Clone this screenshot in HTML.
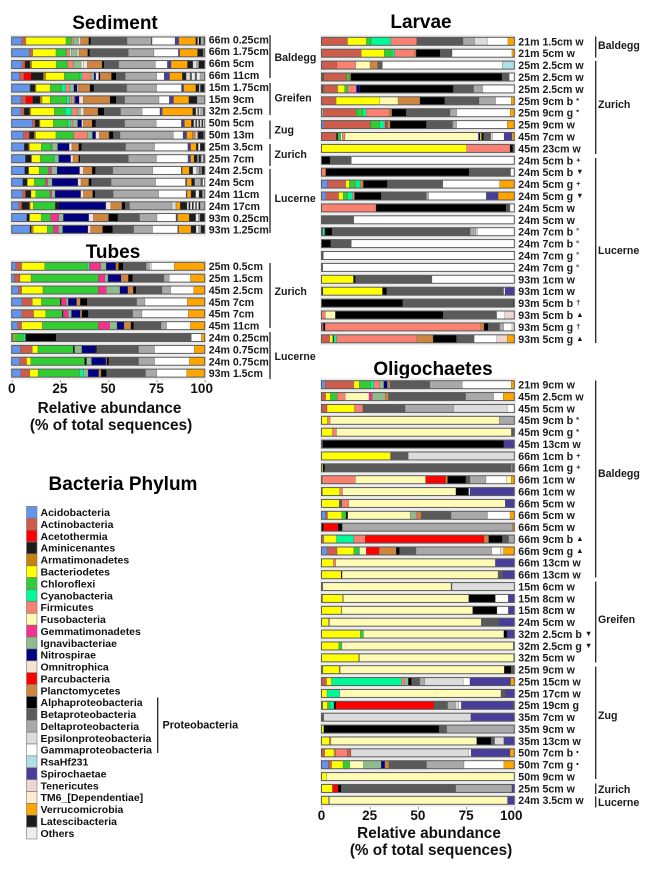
<!DOCTYPE html>
<html lang="en">
<head>
<meta charset="utf-8">
<title>Bacteria phylum relative abundance</title>
<style>
html,body{margin:0;padding:0;background:#fff;}
svg{display:block;font-family:"Liberation Sans",Arial,sans-serif;font-weight:bold;}
.title{font-size:19px;fill:#000;text-anchor:middle;}
.axt{font-size:15.3px;fill:#111;text-anchor:middle;}
.grp{font-size:10.6px;fill:#1a1a1a;dominant-baseline:central;}
.brk{stroke:#222;stroke-width:1.3;}
</style>
</head>
<body>
<svg id="chart" width="649" height="872" viewBox="0 0 649 872" xmlns="http://www.w3.org/2000/svg">
<rect width="649" height="872" fill="#fff"/>
<text class="title" x="115" y="29">Sediment</text>
<text class="title" x="113" y="258">Tubes</text>
<text class="title" x="421" y="28">Larvae</text>
<text class="title" x="433" y="375">Oligochaetes</text>
<text class="title" x="123" y="490">Bacteria Phylum</text>

<g id="panels"></g>
<g id="legend"></g>

<g>
<line class="brk" x1="270" x2="270" y1="35" y2="78"/>
<line class="brk" x1="270" x2="270" y1="83" y2="115"/>
<line class="brk" x1="270" x2="270" y1="120.5" y2="139"/>
<line class="brk" x1="270" x2="270" y1="144" y2="166"/>
<line class="brk" x1="270" x2="270" y1="169" y2="233"/>
<text class="grp" x="274.5" y="58">Baldegg</text>
<text class="grp" x="274.5" y="98.5">Greifen</text>
<text class="grp" x="274.5" y="130.5">Zug</text>
<text class="grp" x="274.5" y="155">Zurich</text>
<text class="grp" x="274.5" y="199">Lucerne</text>
</g>
<g>
<line class="brk" x1="270" x2="270" y1="263" y2="328"/>
<line class="brk" x1="270" x2="270" y1="332" y2="379"/>
<text class="grp" x="274.5" y="292">Zurich</text>
<text class="grp" x="274.5" y="357">Lucerne</text>
</g>
<g>
<line class="brk" x1="595.7" x2="595.7" y1="36.5" y2="57.5"/>
<line class="brk" x1="595.7" x2="595.7" y1="61" y2="154"/>
<line class="brk" x1="595.7" x2="595.7" y1="158" y2="343"/>
<text class="grp" x="598" y="46">Baldegg</text>
<text class="grp" x="598" y="105">Zurich</text>
<text class="grp" x="598" y="251">Lucerne</text>
</g>
<g>
<line class="brk" x1="595.7" x2="595.7" y1="380.5" y2="577.5"/>
<line class="brk" x1="595.7" x2="595.7" y1="581.5" y2="662.5"/>
<line class="brk" x1="595.7" x2="595.7" y1="666.5" y2="779"/>
<line class="brk" x1="595.7" x2="595.7" y1="783.5" y2="794"/>
<line class="brk" x1="595.7" x2="595.7" y1="796.5" y2="807.5"/>
<text class="grp" x="598" y="474">Baldegg</text>
<text class="grp" x="598" y="620">Greifen</text>
<text class="grp" x="598" y="716">Zug</text>
<text class="grp" x="598" y="790">Zurich</text>
<text class="grp" x="598" y="803">Lucerne</text>
</g>

<text class="axt" x="109.5" y="413">Relative abundance</text>
<text class="axt" x="111" y="430">(% of total sequences)</text>
<text class="axt" x="429" y="838">Relative abundance</text>
<text class="axt" x="431" y="855">(% of total sequences)</text>

<line class="brk" x1="157.7" x2="157.7" y1="697.5" y2="753"/>
<text x="162.5" y="725.7" font-size="10.8" fill="#111" dominant-baseline="central">Proteobacteria</text>
</svg>

<script>
const phylumKeys = ['Ac','An','At','Am','Ar','B','C','Cy','F','Fu','G','I','N','O','P','Pl','Al','Be','De','Ep','Ga','R','S','T','TM','V','L','Ot'];
const phylumNames = ['Acidobacteria','Actinobacteria','Acetothermia','Aminicenantes','Armatimonadetes','Bacteriodetes','Chloroflexi','Cyanobacteria','Firmicutes','Fusobacteria','Gemmatimonadetes','Ignavibacteriae','Nitrospirae','Omnitrophica','Parcubacteria','Planctomycetes','Alphaproteobacteria','Betaproteobacteria','Deltaproteobacteria','Epsilonproteobacteria','Gammaproteobacteria','RsaHf231','Spirochaetae','Tenericutes','TM6_[Dependentiae]','Verrucomicrobia','Latescibacteria','Others'];
const phylumColors = {Ac:'#6495ED',An:'#CD5C4A',At:'#FF0000',Am:'#1C1C1C',Ar:'#C88008',B:'#FFFF00',C:'#32CD32',Cy:'#00FA9A',F:'#FA8072',Fu:'#FFFAB4',G:'#F5308F',I:'#8FBC8F',N:'#000080',O:'#F5E2D2',P:'#FF0000',Pl:'#CD853F',Al:'#000000',Be:'#5A5A5A',De:'#A9A9A9',Ep:'#DCDCDC',Ga:'#FFFFFF',R:'#B0E0E6',S:'#483D9B',T:'#EED5D2',TM:'#FFEBD2',V:'#FFA500',L:'#1C1C1C',Ot:'#EEEEEE'};
const tickValues = [0,25,50,75,100];

const sedimentLabels = ['66m 0.25cm','66m 1.75cm','66m 5cm','66m 11cm','15m 1.75cm','15m 9cm','32m 2.5cm','50m 5cm','50m 13m','25m 3.5cm','25m 7cm','24m 2.5cm','24m 5cm','24m 11cm','24m 17cm','93m 0.25cm','93m 1.25cm'];
const sedimentValues = [
['Ac',5.2,'An',2.2,'B',21,'C',2.8,'F',1,'I',2.8,'O',1,'Pl',4.3,'Al',1,'Be',19,'De',12.8,'Al',.3,'Ga',12,'S',2,'V',8.8,'L',1,'Ot',.7,'Al',.9,'De',1.7,'L',.4],
['Ac',9.2,'An',1.7,'B',12,'C',5.5,'F',1.7,'Ot',.7,'I',3,'O',1,'Pl',4.5,'Al',1,'Be',20,'De',13.3,'Ga',12.6,'S',.7,'V',9.2,'L',3,'De',.7],
['Ac',5.2,'An',1.7,'Am',2.6,'Ar',.9,'B',12.6,'C',6,'F',3,'I',4,'Ot',1.2,'O',2,'Pl',7.6,'Al',1,'Be',7.6,'De',19,'Ga',6.2,'S',1.9,'V',8.5,'L',2.8,'Ep',2,'De',1,'L',3.1],
['Ac',4,'An',2.4,'At',3.6,'Am',6.4,'Ar',1.2,'B',9.7,'C',8.1,'Cy',.9,'F',4.8,'I',1.6,'N',.9,'O',1.5,'N',.7,'Pl',5.9,'Al',2.4,'Be',4.7,'De',16.4,'Ga',3.8,'S',2.8,'V',6.6,'L',2,'Ep',2,'Be',.9,'Ot',1.7,'Be',.9,'Ot',1.7,'De',2.4],
['Ac',9.5,'Am',2.6,'Ar',.5,'B',7.3,'C',6,'Cy',2,'F',1.9,'I',2.4,'N',1.6,'O',.5,'Pl',6.2,'Al',2,'Be',17,'De',15.5,'Ga',12.8,'S',1.2,'V',6.2,'L',1.7,'Ep',.7,'L',1.9,'Ot',.3],
['Ac',4.7,'An',2.4,'At',3.5,'Am',3.8,'Ar',1,'B',4.1,'C',8.3,'Cy',1.4,'F',1,'I',1.4,'G',.6,'N',1.9,'O',2.1,'Pl',13.6,'Al',3.1,'Be',4.3,'De',17.4,'Ga',5.2,'S',2.1,'V',7.8,'L',4.1,'De',1.7,'Ep',.6,'De',1.6],
['Ac',4.7,'An',1.7,'Am',2.8,'Ar',.7,'B',12.1,'C',5.7,'Cy',3.3,'F',3.1,'I',1.4,'O',1.7,'Pl',7.4,'Al',3.1,'Be',8.5,'De',11.2,'Ga',9.2,'S',1.2,'V',15.7,'L',1.6,'Ep',1,'Be',.6,'Ep',1,'De',1.4,'L',.6],
['Ac',10.7,'An',1.4,'Am',2.2,'Ar',.4,'B',6.9,'C',7.6,'Cy',1.4,'F',1.2,'I',2.4,'N',2.1,'O',.9,'Pl',4.5,'Al',1.9,'Be',15,'De',16.4,'Ga',13,'S',1.6,'V',3.6,'L',1.2,'Ep',1,'L',.6,'Ep',1,'L',.6,'Ep',1,'L',.6,'Ep',.9],
['Ac',6,'An',3.1,'Am',2.6,'Ar',.7,'B',10.5,'C',9.2,'F',7.1,'I',2.6,'N',1.7,'O',1.9,'Pl',5,'Al',2.2,'Be',3.5,'De',27.6,'Ga',5,'S',1.9,'V',2.9,'Pl',1.6,'Ep',1.2,'L',3,'De',.6],
['Ac',6.4,'Am',2.2,'Ar',.5,'B',6,'C',5,'Cy',.4,'F',.4,'I',2.6,'N',5.9,'O',1.4,'Pl',3.5,'Al',1.4,'Be',22.5,'De',14.9,'Ga',17,'S',1.4,'V',2.9,'L',1,'Ot',1,'L',2.3],
['Ac',7.1,'Am',2.9,'Ar',.4,'B',4.3,'C',6.9,'Cy',.6,'I',2,'N',6.2,'O',1.2,'Pl',2.9,'Al',.7,'Be',24.9,'De',14.5,'Ga',16.2,'S',1.4,'V',1.7,'L',1.7,'De',.8,'L',1,'De',.7,'Ga',.7,'L',.6],
['Ac',6.7,'Am',2.1,'B',5.4,'C',5,'G',1.4,'I',2.9,'N',11.6,'O',2,'Pl',4.5,'Al',1.7,'Be',9,'De',20.7,'Ga',14.7,'S',.5,'V',3.6,'L',1.9,'Ot',2,'De',1.4,'Be',.6,'Ot',.5,'L',1.6],
['Ac',5.7,'Am',2.4,'B',3.5,'C',5.9,'G',1,'I',2.4,'N',13.3,'O',1.6,'Pl',4,'Al',1.4,'Be',10.2,'De',23,'Ga',15.4,'S',.7,'V',2.4,'L',1.7,'Ot',.5,'De',2.6,'Be',1,'Ga',1],
['Ac',5.5,'An',1.6,'Am',2.8,'B',2.4,'C',7.3,'G',.9,'I',1.7,'N',13.1,'O',1.4,'Pl',4.7,'Al',1.2,'Be',9.3,'De',23.3,'Ga',14,'S',.5,'V',2,'L',2.4,'Ot',1.7,'L',1.7,'De',1.2],
['Ac',3.6,'An',1.6,'Am',4,'Ar',.4,'B',1.6,'C',11.4,'Am',1.7,'N',24.5,'O',2.6,'Pl',5.7,'Al',1.6,'Be',2.4,'De',22,'Ep',1.9,'Ga',.3,'V',2,'L',3.5,'Ep',1,'L',.7,'Ot',1,'L',.7,'Ot',1,'Be',.7,'Ot',1,'L',.7,'De',2.4],
['Ac',7.8,'Am',1.4,'B',6,'C',5,'G',4.1,'I',2.4,'N',13.1,'O',2.4,'Pl',7.8,'Al',4.8,'Be',11.2,'De',9,'Ga',9.8,'S',.8,'V',6,'L',3.4,'Ot',1.4,'De',.8,'L',2.4],
['Ac',9.5,'Am',.7,'Ar',1,'B',7.3,'C',3.1,'G',2.6,'I',2.2,'N',13.1,'O',1.4,'Pl',6.2,'Al',5.2,'Be',10.9,'De',9.8,'Ga',13,'S',.5,'V',6.4,'L',2.6,'Ot',1.4,'De',1.2,'L',1.9]
];

const tubesLabels = ['25m 0.5cm','25m 1.5cm','45m 2.5cm','45m 7cm','45m 7cm','45m 11cm','24m 0.25cm','24m 0.75cm','24m 0.75cm','93m 1.5cm'];
const tubesValues = [
['Ac',2.1,'An',3.1,'B',11.9,'C',22.1,'Cy',1,'G',5.9,'I',2.8,'N',5,'Ar',1.4,'Al',2.4,'Be',11.9,'De',1.7,'Ep',1,'Ga',11.9,'V',15.7],
['Ac',1.4,'An',2.9,'B',5.7,'C',34.9,'G',3.3,'I',1.7,'N',6.7,'Pl',3.8,'Al',2.2,'Be',16.2,'De',2.8,'Ga',10.9,'V',7.4],
['Ac',3.5,'An',1.7,'B',11,'C',28.7,'G',4.1,'I',7.1,'N',4.1,'Pl',2.8,'Al',1.4,'Be',13.5,'De',4.5,'Ga',11.9,'V',5.7],
['Ac',5.2,'An',5.5,'B',4.7,'C',9.8,'Al',.5,'G',2.6,'I',1,'N',4.3,'Pl',1.9,'Al',3.6,'Be',25.6,'De',4.3,'Ga',21.9,'V',9],
['Ac',5.2,'An',6.2,'B',6.2,'C',8.6,'Am',.5,'G',2.6,'I',1.7,'N',4.5,'Pl',.9,'Al',3.3,'Be',23,'De',4.8,'Ga',24,'V',8.5],
['Ac',3.1,'An',2.1,'B',10.7,'C',29,'G',5.9,'I',3.8,'N',3.6,'Pl',3.6,'Al',1.4,'Be',14.2,'De',2.9,'Ga',12.3,'V',7.4],
['Ac',.5,'Ar',.5,'B',.5,'C',4.5,'Cy',1,'Be',.4,'Al',15.5,'Be',70,'Ga',5.2,'V',1.7],
['Ac',4.5,'An',6.2,'B',2.9,'C',18.3,'Al',.7,'I',3.8,'N',7.1,'Al',.5,'Be',21.8,'De',8.3,'Ga',20.6,'V',5.4],
['Ac',4.1,'An',3.6,'B',2.2,'C',27.8,'Al',1,'I',2.6,'N',7.4,'Pl',.5,'Al',1,'Be',15.4,'De',8.3,'Ga',18,'V',7.9],
['Ac',4.7,'An',4.7,'B',4.3,'C',21.4,'Cy',2.1,'I',2.4,'N',5.5,'Pl',1.2,'Al',2.8,'Be',20.2,'De',5.9,'Ga',15.5,'V',9.3]
];

const larvaeLabels = ['21m 1.5cm w','21m 5cm w','25m 2.5cm w','25m 2.5cm w','25m 2.5cm w','25m 9cm b|*','25m 9cm g|*','25m 9cm w','45m 7cm w','45m 23cm w','24m 5cm b|+','24m 5cm b|▼','24m 5cm g|+','24m 5cm g|▼','24m 5cm w','24m 5cm w','24m 7cm b|°','24m 7cm b|ª','24m 7cm g|°','24m 7cm g|ª','93m 1cm w','93m 1cm w','93m 5cm b|†','93m 5cm b|▲','93m 5cm g|†','93m 5cm g|▲'];
const larvaeValues = [
['An',13.5,'B',9.8,'C',2.4,'Cy',10.2,'F',13.5,'Be',24,'De',6,'Ep',6.6,'Ga',10.7,'V',3.3],
['An',20.6,'B',11.9,'C',4.1,'Cy',1.2,'F',10.5,'Pl',.7,'Al',12.4,'Be',6.2,'Ga',31,'V',1.2],
['An',7.9,'F',9.8,'Fu',7.4,'Pl',4,'Be',2.4,'Ga',62,'R',6.2],
['Be',1.2,'An',11.9,'C',1.4,'Pl',.7,'Al',78.4,'Be',3.8,'Ga',2.6],
['Be',1,'An',7.4,'B',3.6,'C',1.6,'F',4.5,'N',1.7,'Al',48.5,'Be',10.5,'De',4.7,'Ga',16.4],
['An',7.6,'B',22.6,'Fu',9.5,'Pl',11.4,'Al',12.8,'Be',17.8,'De',8.6,'Ga',8.1,'V',1.6],
['De',1,'An',17,'C',3.5,'Cy',1.7,'F',11.9,'Pl',1.4,'Al',7.4,'Be',22.8,'De',3.5,'Ga',27.8,'V',2.1],
['Ac',1.2,'An',24.2,'C',4.7,'Cy',2.4,'F',.7,'Be',1,'Pl',1.4,'Al',18.8,'Be',13.6,'De',2.1,'Ga',26.3,'V',3.6],
['An',7.8,'Al',.7,'C',1.6,'Ga',.7,'F',1.4,'Fu',69.3,'N',.9,'B',.7,'Al',1,'Be',3.8,'Ep',1,'Ga',5.9,'S',4.1,'V',1.2],
['B',75.3,'F',22.5,'Al',1.4,'Be',.8],
['Al',4.5,'Be',11,'Ga',84.5],
['F',2.2,'Al',74.3,'Be',21.6,'Ga',1.9],
['Ac',3.1,'An',9.5,'B',1.9,'C',3.3,'Cy',2.2,'Pl',1.7,'Al',12.4,'Be',28.8,'Ga',29.4,'V',7.6],
['Ac',2.2,'An',6.7,'B',2.4,'C',2.2,'Cy',2.6,'F',1,'Al',13.8,'Be',23.3,'De',1.2,'Ga',29.9,'S',6.2,'V',8.3],
['F',28.3,'Al',67.4,'Be',2.1,'Ga',2.2],
['Be',16.8,'Ga',83.2],
['Be',.7,'Cy',1,'Al',3.8,'Be',71.5,'De',2.9,'Ep',1,'Ga',19],
['Al',4.8,'Be',10.7,'Ga',84.5],
['Be',1,'Ga',99],
['Be',.7,'Ga',99.3],
['B',16.6,'Al',1,'Be',39.7,'Ga',42.7],
['Al',.7,'B',30.9,'Al',2.2,'Be',60.6,'Ga',.7,'S',4.8],
['Al',42.1,'Be',57.5,'Al',.4],
['F',2,'Fu',5.2,'Al',55.8,'Be',27.8,'Ga',4.1,'T',5],
['An',1,'Al',.9,'F',80.7,'Pl',1.7,'Al',2.2,'Be',5.9,'De',2.1,'Ga',4.3,'T',1.2],
['An',4.3,'B',1.6,'Al',.5,'Cy',1.4,'F',41.6,'Pl',8.5,'Al',12.1,'Be',9.2,'Ga',11.7,'T',5.5,'V',3.6]
];

const oligochaetesLabels = ['21m 9cm w','45m 2.5cm w','45m 5cm w','45m 9cm b|*','45m 9cm g|*','45m 13cm w','66m 1cm b|+','66m 1cm g|+','66m 1cm w','66m 1cm w','66m 5cm w','66m 5cm w','66m 5cm w','66m 9cm b|▲','66m 9cm g|▲','66m 13cm w','66m 13cm w','15m 6cm w','15m 8cm w','15m 8cm w','24m 5cm w','32m 2.5cm b|▼','32m 2.5cm g|▼','32m 5cm w','25m 9cm w','25m 15cm w','25m 17cm w','25m 19cm g','35m 7cm w','35m 9cm w','35m 13cm w','50m 7cm b|•','50m 7cm g|•','50m 9cm w','25m 5cm w','24m 3.5cm w'];
const oligochaetesValues = [
['Ac',1.9,'An',14.9,'B',2.9,'C',5.9,'Cy',1.6,'F',3.1,'I',2.1,'N',1.9,'O',.5,'Pl',.9,'Be',20.6,'De',16.9,'Ga',25.4,'V',1.6],
['An',2.2,'B',2.4,'C',3.6,'F',4.1,'Fu',12.3,'G',1.7,'I',6.7,'Pl',1.7,'Be',39.9,'De',14.5,'Ga',5,'V',5.7],
['An',2.9,'B',14.2,'F',4.3,'Be',21.9,'De',25.2,'Ep',27.8,'Ga',3.6],
['B',3.1,'F',1.4,'Fu',87.7,'De',7.8],
['B',5.7,'F',2.1,'Fu',90.7,'Be',1.5],
['Be',.7,'Al',94,'S',5.4],
['B',35.8,'Be',9.2,'Ep',55],
['B',.7,'Al',1,'Be',96.7,'De',.7,'Be',.9],
['Pl',.5,'F',17.1,'Fu',36.4,'At',10.4,'Pl',1,'Al',9.5,'Be',2.1,'De',8.3,'Ga',10.5,'Fu',2.6,'V',1.6],
['Be',.5,'B',9,'F',1.4,'Fu',58.9,'Al',6.6,'Ga',.7,'S',23],
['B',9.2,'Be',1.4,'F',3.6,'Fu',81.2,'S',4.7],
['Ac',2.1,'An',1,'B',7.4,'C',2.2,'Al',.9,'Fu',32.3,'I',3.1,'F',.9,'Pl',1.7,'Be',15.5,'De',18.8,'Ga',11.7,'V',2.2],
['Al',1,'At',7.6,'Al',2.2,'De',88.3,'Pl',.9],
['An',1.2,'B',6.6,'Cy',9,'F',5.9,'At',61.7,'Pl',2.4,'Al',7.1,'Be',3.3,'De',2.9],
['Ac',2.9,'An',5.2,'B',8.6,'C',2.6,'Cy',.4,'Fu',3.5,'At',6.7,'Pl',8.8,'Al',1.7,'Be',8.6,'De',39.2,'Ga',4.5,'O',1.7,'V',5.5],
['B',6.2,'F',1.2,'Fu',82.7,'S',9.8],
['B',10.2,'Al',.5,'Fu',80.8,'Be',2.4,'S',6],
['Be',.7,'Fu',66.5,'Be',.5,'Ep',32.3],
['Be',.5,'B',10.4,'De',.5,'Fu',64.9,'Al',13.8,'Ga',6.7,'S',3.1],
['B',10.2,'De',.4,'Fu',67.9,'Al',12.6,'Ga',5.9,'S',3.1],
['B',3.6,'De',.7,'Fu',78.6,'Be',9.2,'S',7.9],
['B',20.2,'C',1.6,'Fu',72.9,'Al',1.6,'S',3.8],
['B',9,'C',1.6,'Fu',88.9,'Be',.5],
['B',19.3,'Be',.4,'Fu',80,'Be',.3],
['Be',.7,'B',8.6,'Be',.4,'Fu',85.1,'Al',3.5,'Be',1.7],
['An',2.6,'B',2.6,'Cy',36.4,'F',1.6,'I',1.9,'Al',1.6,'Be',4.3,'De',2.6,'Ep',20,'Ga',3.5,'S',21.1,'V',1.9],
['B',2.9,'Cy',6.6,'Fu',83.6,'Be',2.4,'S',4.5],
['Be',.7,'B',2.4,'C',1.4,'Cy',2,'Al',1,'At',50.8,'Be',7.1,'De',4.1,'Ep',1.6,'Ga',1.4,'S',26.6,'Be',.9],
['Be',1.2,'Ep',76.3,'S',22.5],
['B',1.2,'Al',59.8,'Be',4,'De',35],
['B',4,'Pl',.9,'Fu',75.6,'Al',7.4,'Be',1.9,'Ep',4.8,'S',5.4],
['An',1.7,'B',4.8,'Pl',.9,'F',6,'An',1.9,'Ep',61,'Ga',1.2,'S',20.2,'V',2.2],
['Ac',3.5,'An',1.7,'B',6,'C',3.5,'Fu',7.1,'I',9.2,'N',1.9,'Pl',2.1,'Be',19.5,'De',19.5,'Ga',20.7,'V',5.4],
['B',2.6,'Fu',97.4],
['B',5.7,'At',2.9,'Al',1.6,'Be',59.4,'De',29.2,'S',1.2],
['B',3.6,'De',.7,'Fu',92.2,'S',3.5]
];

const SVG_NS = 'http://www.w3.org/2000/svg';
const panelsRoot = document.getElementById('panels');
const legendRoot = document.getElementById('legend');

function scaleX(x0, x100) { return function (v) { return x0 + (x100 - x0) * v / 100; }; }
function scaleRow(yFirst, step) { return function (i) { return yFirst + step * i; }; }

function drawPanel(cfg) {
  const group = document.createElementNS(SVG_NS, 'g');
  
  
  panelsRoot.appendChild(group);
  const x = scaleX(cfg.x0, cfg.x100);
  const y = scaleRow(cfg.yFirst, cfg.step);
  const labelY = scaleRow(cfg.labelFirst, cfg.labelStep);
  const n = cfg.values.length;

  const band = document.createElementNS(SVG_NS, 'rect');
  
  
  band.setAttribute('x', x(0) - 1.5);
  band.setAttribute('y', y(0) - 6.5);
  band.setAttribute('width', x(100) - x(0) + 3);
  band.setAttribute('height', y(n - 1) - y(0) + 13);
  band.setAttribute('fill', '#ececec');
  group.appendChild(band);

  cfg.values.forEach(function (row, r) {
    let total = 0;
    for (let k = 1; k < row.length; k += 2) total += row[k];
    let cum = 0;
    for (let k = 0; k < row.length; k += 2) {
      const share = row[k + 1] / total * 100;
      const seg = document.createElementNS(SVG_NS, 'rect');
      
      
      seg.setAttribute('x', x(cum));
      seg.setAttribute('y', y(r) - 4);
      seg.setAttribute('width', x(cum + share) - x(cum));
      seg.setAttribute('height', 8);
      seg.setAttribute('fill', phylumColors[row[k]]);
      seg.setAttribute('stroke', 'rgba(50,50,50,.45)');
      seg.setAttribute('stroke-width', '0.4');
      group.appendChild(seg);
      cum += share;
    }
    const outline = document.createElementNS(SVG_NS, 'rect');
    
    
    outline.setAttribute('x', x(0));
    outline.setAttribute('y', y(r) - 4);
    outline.setAttribute('width', x(100) - x(0));
    outline.setAttribute('height', 8);
    outline.setAttribute('fill', 'none');
    outline.setAttribute('stroke', '#5c5c5c');
    outline.setAttribute('stroke-width', '1');
    group.appendChild(outline);

    const parts = cfg.labels[r].split('|');
    const label = document.createElementNS(SVG_NS, 'text');
    
    
    label.setAttribute('x', cfg.labelX);
    label.setAttribute('y', labelY(r) + 3.8);
    label.setAttribute('font-size', '10.6');
    label.setAttribute('fill', '#1a1a1a');
    label.textContent = parts[0];
    if (parts[1]) {
      const mark = document.createElementNS(SVG_NS, 'tspan');
      
      
      mark.setAttribute('dx', '3');
      mark.setAttribute('dy', '-2');
      mark.setAttribute('font-size', '7.5');
      mark.textContent = parts[1];
      label.appendChild(mark);
    }
    group.appendChild(label);
  });

  if (cfg.axisY) {
    tickValues.forEach(function (t) {
      const tick = document.createElementNS(SVG_NS, 'line');
      
      
      tick.setAttribute('x1', x(t) + 0.5);
      tick.setAttribute('x2', x(t) + 0.5);
      tick.setAttribute('y1', cfg.axisY);
      tick.setAttribute('y2', cfg.axisY + 2.5);
      tick.setAttribute('stroke', '#999');
      tick.setAttribute('stroke-width', '1');
      group.appendChild(tick);
      const tl = document.createElementNS(SVG_NS, 'text');
      
      
      tl.setAttribute('x', x(t) - (t === 100 ? 3 : 0));
      tl.setAttribute('y', cfg.axisY + 13);
      tl.setAttribute('font-size', '13.5');
      tl.setAttribute('fill', '#111');
      tl.setAttribute('text-anchor', 'middle');
      tl.textContent = String(t);
      group.appendChild(tl);
    });
  }
}

drawPanel({labels: sedimentLabels, values: sedimentValues, x0: 11.7, x100: 204.7, yFirst: 41, step: 11.77, labelFirst: 39.5, labelStep: 11.9, labelX: 208.7});
drawPanel({labels: tubesLabels, values: tubesValues, x0: 11.7, x100: 204.7, yFirst: 266.3, step: 11.87, labelFirst: 266.3, labelStep: 11.9, labelX: 208.7, axisY: 380});
drawPanel({labels: larvaeLabels, values: larvaeValues, x0: 321.5, x100: 514.3, yFirst: 41.3, step: 11.9, labelFirst: 41.5, labelStep: 11.9, labelX: 518.3});
drawPanel({labels: oligochaetesLabels, values: oligochaetesValues, x0: 321.5, x100: 514.3, yFirst: 384.7, step: 11.875, labelFirst: 384.7, labelStep: 11.875, labelX: 518.3, axisY: 807});

const legendY = scaleRow(512.3, 11.88);
phylumKeys.forEach(function (key, i) {
  const swatch = document.createElementNS(SVG_NS, 'rect');
  
  
  swatch.setAttribute('x', 26.5);
  swatch.setAttribute('y', legendY(i) - 5.9);
  swatch.setAttribute('width', 10.5);
  swatch.setAttribute('height', 11.8);
  swatch.setAttribute('fill', phylumColors[key]);
  swatch.setAttribute('stroke', '#777');
  swatch.setAttribute('stroke-width', '0.6');
  legendRoot.appendChild(swatch);
  const entry = document.createElementNS(SVG_NS, 'text');
  
  
  entry.setAttribute('x', 40.5);
  entry.setAttribute('y', legendY(i) + 3.8);
  entry.setAttribute('font-size', '10.5');
  entry.setAttribute('fill', '#111');
  entry.textContent = phylumNames[i];
  legendRoot.appendChild(entry);
});
</script>
</body>
</html>
